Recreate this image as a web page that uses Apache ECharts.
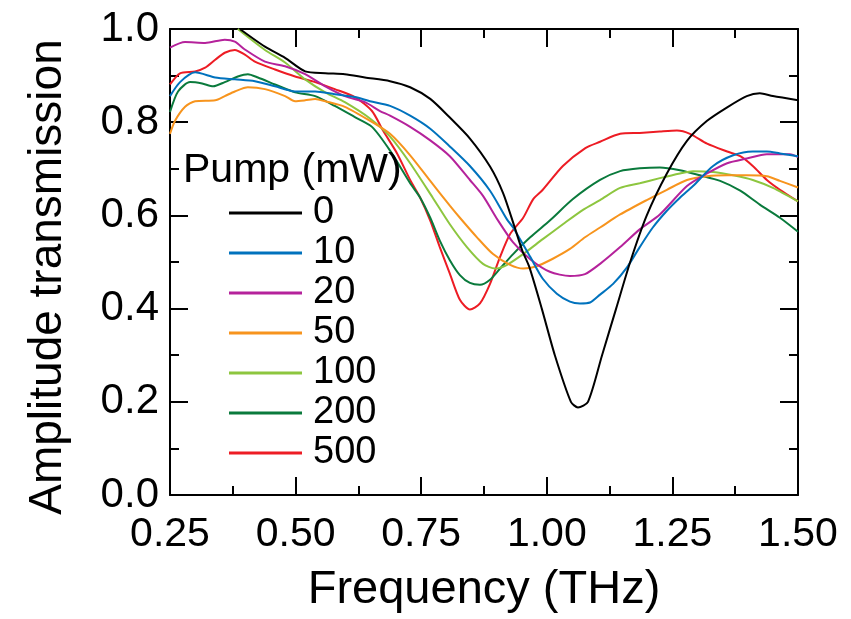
<!DOCTYPE html>
<html>
<head>
<meta charset="utf-8">
<script src="https://cdn.jsdelivr.net/npm/echarts@6/dist/echarts.min.js"></script>
<style>
html,body{margin:0;padding:0;background:#fff;}
#chart{width:851px;height:619px;}
</style>
</head>
<body>
<div id="chart"></div>
<script>
// ---- data ----
var seriesNames = ['0', '10', '20', '50', '100', '200', '500'];
var xTicks = ['0.25', '0.50', '0.75', '1.00', '1.25', '1.50'];
var yTicks = ['0.0', '0.2', '0.4', '0.6', '0.8', '1.0'];

var freq0 = [0.389,0.439,0.479,0.519,0.559,0.598,0.638,0.688,0.728,0.768,0.807,0.847,0.887,0.913,0.935,0.951,0.965,0.990,1.016,1.048,1.062,1.082,1.110,1.138,1.166,1.199,1.239,1.279,1.319,1.359,1.398,1.424,1.450,1.500];
var amp0  = [1.0,0.962,0.938,0.909,0.905,0.903,0.896,0.888,0.875,0.85,0.81,0.765,0.705,0.648,0.578,0.525,0.49,0.4,0.3,0.2,0.188,0.2,0.3,0.4,0.5,0.6,0.69,0.76,0.803,0.832,0.856,0.862,0.856,0.847];

var freq10 = [0.25,0.27,0.30,0.34,0.379,0.419,0.459,0.499,0.539,0.578,0.618,0.648,0.688,0.728,0.768,0.807,0.847,0.887,0.921,0.933,0.967,0.992,1.020,1.046,1.066,1.086,1.106,1.132,1.160,1.185,1.211,1.239,1.265,1.291,1.331,1.371,1.410,1.438,1.464,1.500];
var amp10  = [0.856,0.886,0.907,0.896,0.892,0.888,0.877,0.866,0.866,0.86,0.854,0.845,0.835,0.814,0.786,0.748,0.706,0.653,0.591,0.574,0.511,0.464,0.432,0.415,0.411,0.413,0.43,0.453,0.489,0.532,0.574,0.61,0.638,0.663,0.706,0.729,0.737,0.737,0.733,0.727];

var freq20 = [0.25,0.280,0.320,0.359,0.379,0.399,0.439,0.479,0.519,0.559,0.598,0.638,0.668,0.688,0.728,0.768,0.807,0.847,0.873,0.903,0.933,0.967,1.006,1.046,1.076,1.106,1.146,1.185,1.225,1.279,1.319,1.359,1.398,1.438,1.484,1.500];
var amp20  = [0.96,0.972,0.97,0.977,0.973,0.956,0.930,0.92,0.903,0.877,0.856,0.843,0.824,0.814,0.79,0.761,0.727,0.676,0.642,0.589,0.542,0.506,0.479,0.47,0.474,0.496,0.532,0.57,0.602,0.663,0.69,0.712,0.722,0.731,0.731,0.725];

var freq50 = [0.25,0.26,0.28,0.30,0.34,0.359,0.379,0.405,0.439,0.479,0.499,0.519,0.539,0.559,0.598,0.648,0.688,0.728,0.768,0.807,0.827,0.861,0.893,0.927,0.953,0.980,1.012,1.046,1.076,1.106,1.146,1.199,1.239,1.279,1.319,1.359,1.398,1.438,1.464,1.500];
var amp50  = [0.775,0.803,0.833,0.845,0.847,0.856,0.866,0.875,0.871,0.856,0.845,0.847,0.85,0.845,0.833,0.803,0.775,0.729,0.674,0.621,0.595,0.553,0.517,0.494,0.486,0.491,0.507,0.528,0.553,0.574,0.602,0.633,0.655,0.676,0.684,0.686,0.686,0.684,0.674,0.66];

var freq100 = [0.385,0.439,0.479,0.519,0.559,0.598,0.648,0.688,0.728,0.773,0.807,0.841,0.873,0.897,0.921,0.953,0.992,1.032,1.072,1.106,1.146,1.185,1.225,1.265,1.291,1.331,1.371,1.410,1.450,1.500];
var amp100  = [1.0,0.955,0.928,0.892,0.864,0.843,0.808,0.769,0.712,0.638,0.581,0.532,0.496,0.486,0.494,0.517,0.549,0.581,0.612,0.633,0.659,0.669,0.68,0.69,0.695,0.693,0.686,0.676,0.659,0.63];

var freq200 = [0.25,0.266,0.29,0.314,0.336,0.359,0.385,0.405,0.425,0.459,0.499,0.539,0.578,0.618,0.652,0.688,0.728,0.748,0.768,0.787,0.807,0.827,0.847,0.867,0.887,0.907,0.933,0.967,1.006,1.052,1.106,1.146,1.185,1.225,1.265,1.305,1.345,1.385,1.424,1.464,1.500];
var amp200  = [0.822,0.866,0.886,0.883,0.877,0.886,0.898,0.903,0.896,0.881,0.864,0.856,0.835,0.811,0.79,0.739,0.669,0.638,0.595,0.546,0.504,0.472,0.455,0.451,0.462,0.486,0.517,0.553,0.589,0.635,0.676,0.695,0.701,0.703,0.697,0.686,0.674,0.653,0.623,0.595,0.565];

var freq500 = [0.25,0.27,0.30,0.32,0.34,0.359,0.379,0.399,0.419,0.459,0.499,0.539,0.578,0.618,0.652,0.674,0.702,0.728,0.748,0.768,0.787,0.807,0.827,0.847,0.867,0.887,0.907,0.927,0.953,0.973,0.992,1.032,1.076,1.106,1.146,1.185,1.225,1.259,1.285,1.319,1.359,1.385,1.410,1.438,1.464,1.500];
var amp500  = [0.881,0.905,0.909,0.917,0.934,0.949,0.955,0.945,0.930,0.913,0.898,0.886,0.871,0.854,0.824,0.782,0.733,0.676,0.638,0.589,0.532,0.475,0.419,0.398,0.411,0.453,0.511,0.56,0.595,0.635,0.655,0.706,0.744,0.758,0.775,0.777,0.78,0.782,0.775,0.754,0.737,0.727,0.706,0.676,0.655,0.63];

var freqs = [freq0, freq10, freq20, freq50, freq100, freq200, freq500];
var amps  = [amp0, amp10, amp20, amp50, amp100, amp200, amp500];
var colors = ['#000000', '#0072bd', '#b5229b', '#f7941d', '#8dc63f', '#0a7a3c', '#ed1c24'];

var FONT = "'Liberation Sans', Arial, Helvetica, sans-serif";

var series = seriesNames.map(function (name, i) {
  return {
    name: name,
    type: 'line',
    xAxisIndex: 0,
    yAxisIndex: 0,
    data: freqs[i].map(function (f, j) { return [f, amps[i][j]]; }),
    showSymbol: false,
    symbol: 'none',
    smooth: 0.25,
    clip: true,
    lineStyle: { color: colors[i], width: 2 },
    itemStyle: { color: colors[i] },
    z: 2 + (seriesNames.length - i)
  };
});

function axisCommon() {
  return {
    axisLine: { show: true, onZero: false, lineStyle: { color: '#000', width: 2 } },
    axisTick: { show: true, inside: true, length: 18, lineStyle: { color: '#000', width: 2 } },
    minorTick: { show: true, splitNumber: 2, length: 9, lineStyle: { color: '#000', width: 2 } },
    splitLine: { show: false },
    minorSplitLine: { show: false }
  };
}

var xBottom = Object.assign(axisCommon(), {
  type: 'value', position: 'bottom', min: 0.25, max: 1.5, interval: 0.25,
  axisLabel: {
    show: true, margin: 19, color: '#000', fontSize: 41, fontFamily: FONT,
    formatter: function (v) { var i = Math.round((v - 0.25) / 0.25); return xTicks[i]; }
  },
  name: 'Frequency (THz)', nameLocation: 'middle', nameGap: 72,
  nameTextStyle: { color: '#000', fontSize: 47, fontFamily: FONT }
});
var xTop = Object.assign(axisCommon(), {
  type: 'value', position: 'top', min: 0.25, max: 1.5, interval: 0.25,
  axisLabel: { show: false }
});
var yLeft = Object.assign(axisCommon(), {
  type: 'value', position: 'left', min: 0, max: 1, interval: 0.2,
  axisLabel: {
    show: true, margin: 11, color: '#000', fontSize: 42, fontFamily: FONT,
    formatter: function (v) { var i = Math.round(v / 0.2); return yTicks[i]; }
  }
});
var yRight = Object.assign(axisCommon(), {
  type: 'value', position: 'right', min: 0, max: 1, interval: 0.2,
  axisLabel: { show: false }
});

var chart = echarts.init(document.getElementById('chart'), null, { renderer: 'canvas' });
chart.setOption({
  animation: false,
  backgroundColor: '#fff',
  grid: { left: 170, top: 29, right: 53, bottom: 118, containLabel: false },
  xAxis: [xBottom, xTop],
  yAxis: [yLeft, yRight],
  title: {
    text: 'Pump (mW)', left: 183, top: 150, padding: 0,
    textStyle: { color: '#000', fontSize: 41, fontWeight: 'normal', fontFamily: FONT }
  },
  graphic: [{
    type: 'text', x: 48, y: 277, rotation: Math.PI / 2,
    style: {
      text: 'Amplitude transmission', fill: '#000', fontSize: 46, fontFamily: FONT,
      textAlign: 'center', textVerticalAlign: 'middle'
    }
  }],
  legend: {
    orient: 'vertical', left: 229, top: 193, padding: 0,
    itemWidth: 73, itemHeight: 3, itemGap: 0, icon: 'rect',
    data: seriesNames,
    textStyle: { color: '#000', fontSize: 38, fontFamily: FONT, lineHeight: 40, padding: [0, 0, 0, 6] },
    selectedMode: false
  },
  series: series
});
</script>
</body>
</html>
